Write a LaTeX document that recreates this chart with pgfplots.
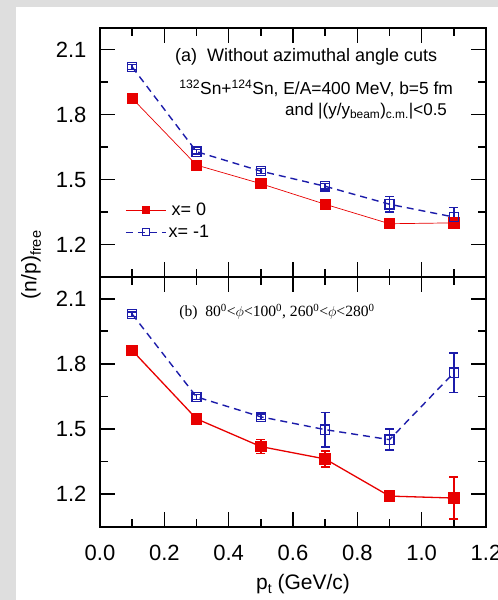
\documentclass[border=0pt]{standalone}
\usepackage{fontspec}
\setmainfont{Liberation Sans}
\newfontfamily\serif{Liberation Serif}
\usepackage{pgfplots}
\pgfplotsset{compat=1.18}
\definecolor{bgrey}{RGB}{222,222,222}
\definecolor{pred}{RGB}{232,0,0}
\definecolor{pblue}{RGB}{28,28,170}

\pgfplotsset{
  panel/.style={
    scale only axis, width=386pt,
    xmin=0, xmax=1.2, ymin=1.05, ymax=2.2,
    xtick={0,0.2,0.4,0.6,0.8,1.0,1.2}, minor x tick num=1,
    ytick={1.2,1.5,1.8,2.1}, minor y tick num=1,
    major tick length=15pt, minor tick length=8pt,
    tick style={line width=1.6pt, black},
    axis line style={line width=1.8pt},
    tick label style={font=\fontsize{22}{24}\selectfont},
    /pgf/number format/assume math mode=true,
    /pgf/number format/fixed, /pgf/number format/fixed zerofill,
    /pgf/number format/precision=1,
    yticklabel style={xshift=-10pt},
    xticklabel style={yshift=-15pt},
  },
  rline/.style={color=pred, mark=square*, mark size=5.1pt,
    mark options={solid, fill=pred},
    error bars/y dir=both, error bars/y explicit,
    error bars/error bar style={line width=1.5pt, solid, pred},
    error bars/error mark options={rotate=90, line width=1.5pt, mark size=4.5pt, pred}},
  bline/.style={color=pblue, dash pattern=on 7pt off 5pt, line width=1.4pt,
    mark=square, mark size=4.6pt, mark options={solid, fill=white, line width=1.4pt},
    error bars/y dir=both, error bars/y explicit,
    error bars/error bar style={line width=1.5pt, solid, pblue},
    error bars/error mark options={rotate=90, line width=1.5pt, mark size=4.5pt, pblue}},
}

\begin{document}
\begin{tikzpicture}[x=1pt,y=1pt]
\useasboundingbox (0,0) rectangle (498,-600);
\fill[bgrey] (0,0) rectangle (498,-600);
\fill[white] (16,-7) rectangle (498,-600);

% (a) no azimuthal cut
\begin{axis}[panel, at={(100pt,-277pt)}, anchor=south west, height=249pt,
  xticklabels={},
  legend style={at={(rel axis cs:0.065,0.305)}, anchor=north west, draw=none,
    fill=none, inner sep=0pt, row sep=4pt, font=\fontsize{18}{19}\selectfont},
  legend image code/.code={\draw[#1, mark size=3.5pt, mark repeat=2, mark phase=2]
    plot coordinates {(0pt,0pt) (20pt,0pt) (40pt,0pt)};},
]
\addplot[rline, line width=0.7pt] coordinates {
  (0.1,1.875) +- (0,0.01) (0.3,1.567) +- (0,0.01) (0.5,1.481) +- (0,0.01)
  (0.7,1.386) +- (0,0.01) (0.9,1.296) +- (0,0.01) (1.1,1.300) +- (0,0.01)
};
\addplot[bline] coordinates {
  (0.1,2.020) +- (0,0.012) (0.3,1.629) +- (0,0.01) (0.5,1.539) +- (0,0.012)
  (0.7,1.469) +- (0,0.012) (0.9,1.386) +- (0,0.035) (1.1,1.327) +- (0,0.045)
};
\legend{x= 0, x= -1}
\node[anchor=west, inner sep=0pt, font=\fontsize{18}{20}\selectfont]
  at (axis cs:0.233,2.065) {(a)\ \ Without azimuthal angle cuts};
\node[anchor=west, inner sep=0pt, font=\fontsize{17.4}{19}\selectfont]
  at (axis cs:0.246,1.922) {\textsuperscript{132}Sn+\textsuperscript{124}Sn, E/A=400 MeV, b=5 fm};
\node[anchor=west, inner sep=0pt, font=\fontsize{17}{19}\selectfont]
  at (axis cs:0.575,1.816) {and |(y/y\textsubscript{beam})\textsubscript{c.m.}|<0.5};
\end{axis}

% (b) 80<phi<100, 260<phi<280
\begin{axis}[panel, at={(100pt,-526.7pt)}, anchor=south west, height=249.7pt]
\addplot[rline, line width=1.3pt] coordinates {
  (0.1,1.862) +- (0,0.01) (0.3,1.547) +- (0,0.01) (0.5,1.419) +- (0,0.032)
  (0.7,1.362) +- (0,0.036) (0.9,1.191) +- (0,0.01) (1.1,1.182) +- (0,0.096)
};
\addplot[bline] coordinates {
  (0.1,2.029) +- (0,0.01) (0.3,1.648) +- (0,0.012) (0.5,1.556) +- (0,0.012)
  (0.7,1.497) +- (0,0.079) (0.9,1.451) +- (0,0.048) (1.1,1.759) +- (0,0.092)
};
\node[anchor=west, inner sep=0pt, font=\serif\fontsize{15.6}{18}\selectfont]
  at (axis cs:0.246,2.038) {(b)\ \ 80\textsuperscript{0}<$\phi$<100\textsuperscript{0}, 260\textsuperscript{0}<$\phi$<280\textsuperscript{0}};
\end{axis}

\node[rotate=90, font=\fontsize{21}{22}\selectfont] at (31,-265)
  {(n/p)\raisebox{-4.5pt}{\fontsize{14.5}{15}\selectfont free}};
\node[font=\fontsize{21}{22}\selectfont] at (303,-584)
  {p\raisebox{-4.5pt}{\fontsize{14}{15}\selectfont t} (GeV/c)};
\end{tikzpicture}
\end{document}
